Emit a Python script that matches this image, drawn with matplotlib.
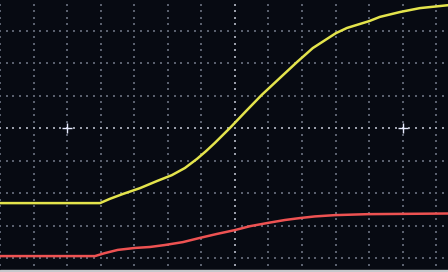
import matplotlib
matplotlib.use("Agg")
import matplotlib.pyplot as plt
import numpy as np

# trace samples, in screen divisions (0,0 = screen centre)
ch1_t = [-7.00, -4.02, -3.73, -3.34, -2.83, -2.32, -1.88, -1.49, -1.13,
         -0.86, -0.60, -0.15, 0.33, 0.80, 1.34, 1.85, 2.32, 3.01, 3.34,
         4.00, 4.32, 4.92, 5.51, 6.35]
ch1_v = [-2.31, -2.31, -2.18, -2.03, -1.85, -1.63, -1.45, -1.23, -0.95,
         -0.71, -0.46, 0.00, 0.52, 1.02, 1.54, 2.03, 2.46, 2.92, 3.08,
         3.29, 3.42, 3.57, 3.69, 3.78]

ch2_t = [-7.00, -4.17, -3.88, -3.49, -2.98, -2.53, -2.09, -1.55, -1.04, -0.54,
         0.00, 0.45, 0.98, 1.49, 1.94, 2.38, 2.98, 3.96, 6.35]
ch2_v = [-3.94, -3.94, -3.85, -3.75, -3.69, -3.66, -3.60, -3.51, -3.38, -3.26,
         -3.14, -3.02, -2.92, -2.83, -2.77, -2.72, -2.68, -2.65, -2.63]

x_lo, x_hi = -7.0, 6.35
y_lo, y_hi = -4.43, 3.94

fig = plt.figure(figsize=(4.48, 2.72), dpi=100)
fig.patch.set_facecolor("#070a12")
ax = fig.add_axes([0, 0, 1, 1])
ax.set_facecolor("#070a12")
ax.set_xlim(x_lo, x_hi)
ax.set_ylim(y_lo, y_hi)
ax.axis("off")

# dotted graticule
dot_col = "#5a606e"
for gx in range(-7, 7):
    ys = np.arange(-5, 4.01, 0.2)
    big = gx == 0
    ax.scatter(np.full_like(ys, gx), ys, s=2.5 if big else 1.2, marker="s",
               color="#9a9eaa" if big else dot_col, linewidths=0, zorder=1)
for gy in range(-5, 4):
    xs = np.arange(-7, 7.01, 0.2)
    big = gy == 0
    ax.scatter(xs, np.full_like(xs, gy), s=2.5 if big else 1.2, marker="s",
               color="#9a9eaa" if big else dot_col, linewidths=0, zorder=1)

# cursor crosses
ax.plot([-5, 5], [0, 0], linestyle="none", marker="+", markersize=7,
        markeredgewidth=1.0, color="#e8ecff", zorder=2)

ax.plot(ch1_t, ch1_v, color="#e4e44c", lw=1.8, zorder=3,
        solid_joinstyle="round")
ax.plot(ch2_t, ch2_v, color="#ee5252", lw=1.8, zorder=3,
        solid_joinstyle="round")

# light strip along the bottom edge
ax.axhspan(y_lo, y_lo + 0.05, color="#c8c8cc", zorder=4)

fig.savefig("out.png", dpi=100, facecolor=fig.get_facecolor())
